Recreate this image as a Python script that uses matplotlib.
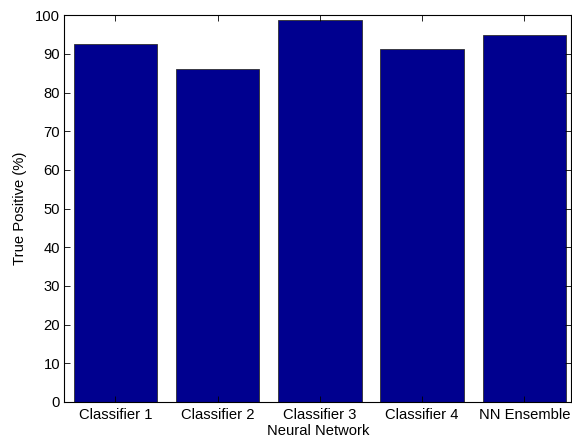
import matplotlib
matplotlib.use("Agg")
import matplotlib.pyplot as plt

categories = ["Classifier 1", "Classifier 2", "Classifier 3", "Classifier 4", "NN Ensemble"]
values = [92.6, 86.1, 98.8, 91.3, 95.0]
yticks = [0, 10, 20, 30, 40, 50, 60, 70, 80, 90, 100]

plt.rcParams['font.family'] = ['Liberation Sans', 'DejaVu Sans']
plt.rcParams['font.size'] = 10.6

fig = plt.figure(figsize=(5.72, 4.42), dpi=100)
ax = fig.add_axes([0.1124, 0.0905, 0.8866, 0.8749])

x = list(range(1, len(categories) + 1))
ax.bar(x, values, width=0.815, color='#00008F', edgecolor='#303030', linewidth=0.6)

ax.set_xlim(0.5, 5.46)
ax.set_ylim(0, 100)
ax.set_xticks(x)
ax.set_xticklabels(categories)
ax.set_yticks(yticks)
ax.tick_params(axis='x', direction='in', top=True, length=4, width=0.6, pad=4, colors='black')
ax.tick_params(axis='y', direction='in', right=True, length=4, width=0.6, pad=3, colors='black')
for s in ax.spines.values():
    s.set_linewidth(0.8)
ax.set_xlabel("Neural Network", labelpad=2)
ax.set_ylabel("True Positive (%)", labelpad=6)

fig.savefig("out.png", dpi=100)
